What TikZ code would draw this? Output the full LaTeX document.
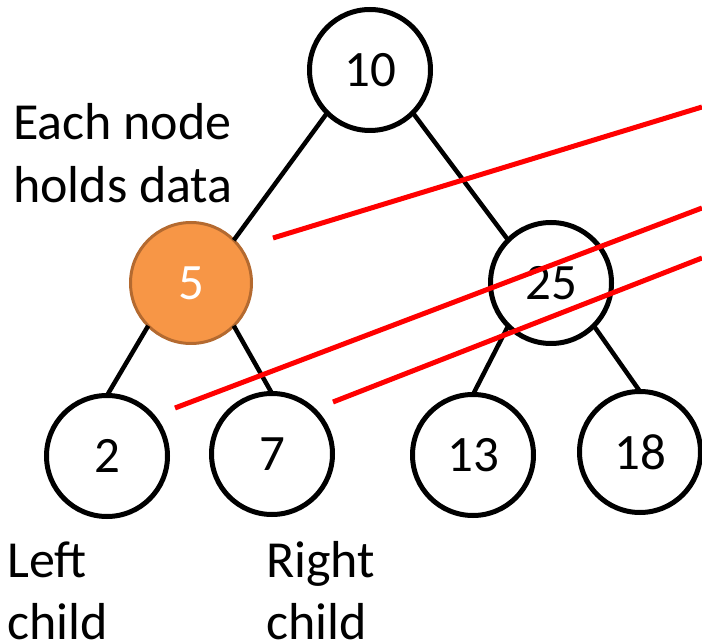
\documentclass[tikz,border=0pt]{standalone}
\usepackage{fontspec}
\setmainfont{Carlito}
\definecolor{accorange}{HTML}{F79646}
\definecolor{accorangedark}{HTML}{B46A30}
\definecolor{redline}{HTML}{FF0000}
\begin{document}
\begin{tikzpicture}[x=1pt,y=-1pt,
  treenode/.style={circle,draw=black,line width=5pt,fill=white,minimum size=121pt,
    inner sep=0pt,outer sep=0pt,font=\fontsize{51}{60}\selectfont},
  hotnode/.style={treenode,fill=accorange,draw=accorangedark,line width=3pt,text=white},
  edge/.style={line width=4.5pt,black},
  pointer/.style={line width=5pt,redline},
  lbl/.style={anchor=base west,inner sep=0pt,font=\fontsize{52}{63}\selectfont}]
\useasboundingbox (0,0) rectangle (702,644);
% tree nodes
\node[treenode] (n10) at (370,70) {10};
\node[hotnode]  (n5)  at (191,283) {5};
\node[treenode] (n25) at (551,283) {25};
\node[treenode] (n2)  at (107,456) {2};
\node[treenode] (n7)  at (272,454) {7};
\node[treenode] (n13) at (473,455) {13};
\node[treenode] (n18) at (640,452) {18};
% edges
\draw[edge] (n10.south west) -- (n5.north east);
\draw[edge] (n10.south east) -- (n25.north west);
\draw[edge] (n5.south west) -- (n2.north);
\draw[edge] (n5.south east) -- (n7.north);
\draw[edge] (n25.south west) -- (n13.north);
\draw[edge] (n25.south east) -- (n18.north);
% labels
\node[lbl] (t1) at (13,140) {Each node};
\node[lbl] (t2) at (13,203) {holds data};
\node[lbl] (t3) at (7,577) {Left};
\node[lbl] (t4) at (7,639) {child};
\node[lbl] (t5) at (266,577) {Right};
\node[lbl] (t6) at (266,639) {child};
% red pointer lines
\coordinate (r1a) at (273,238);
\coordinate (r1b) at (702,107);
\coordinate (r2a) at (175,408);
\coordinate (r2b) at (702,208);
\coordinate (r3a) at (333,402);
\coordinate (r3b) at (702,258);
\draw[pointer] (r1a) -- (r1b);
\draw[pointer] (r2a) -- (r2b);
\draw[pointer] (r3a) -- (r3b);
\end{tikzpicture}
\end{document}
